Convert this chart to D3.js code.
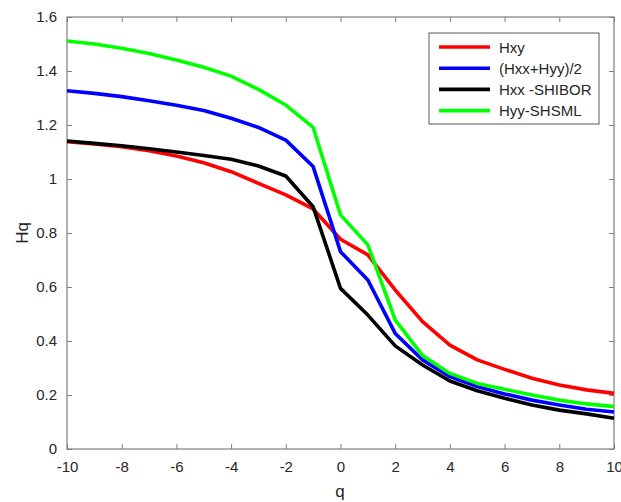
<!DOCTYPE html>
<html><head><meta charset="utf-8">
<script src="https://cdn.jsdelivr.net/npm/d3@7"></script>
<style>body{margin:0;background:#fff;} svg{display:block;font-family:"Liberation Sans",Arial,sans-serif;}</style>
</head><body>
<svg id="c" width="621" height="502"></svg>
<script>
const qValues = [-10,-9,-8,-7,-6,-5,-4,-3,-2,-1,0,1,2,3,4,5,6,7,8,9,10];
const hxy = [1.138,1.130,1.120,1.105,1.085,1.060,1.027,0.984,0.941,0.889,0.777,0.719,0.589,0.472,0.385,0.330,0.295,0.262,0.237,0.219,0.206];
const hAvg = [1.327,1.317,1.305,1.290,1.273,1.254,1.225,1.191,1.144,1.046,0.731,0.626,0.428,0.330,0.268,0.231,0.204,0.181,0.163,0.147,0.137];
const hxxShibor = [1.141,1.132,1.123,1.112,1.100,1.087,1.073,1.048,1.011,0.897,0.595,0.496,0.382,0.311,0.252,0.216,0.188,0.163,0.144,0.130,0.114];
const hyyShsml = [1.511,1.500,1.484,1.465,1.441,1.414,1.381,1.332,1.274,1.191,0.867,0.756,0.478,0.346,0.280,0.243,0.221,0.200,0.181,0.167,0.157];
const seriesNames = ["Hxy","(Hxx+Hyy)/2","Hxx -SHIBOR","Hyy-SHSML"];
const seriesColors = ["#ff0000","#0000ff","#000000","#00ff00"];
const xTicks = [-10,-8,-6,-4,-2,0,2,4,6,8,10];
const yTicks = [0,0.2,0.4,0.6,0.8,1,1.2,1.4,1.6];

const series = [hxy,hAvg,hxxShibor,hyyShsml];
const svg = d3.select("#c");
const L=67,R=614,T=17,B=449;
const x = d3.scaleLinear().domain([-10,10]).range([L,R]);
const y = d3.scaleLinear().domain([0,1.6]).range([B,T]);
const axisColor="#7f7f7f", textColor="#262626";

function styleAxis(g){
  g.selectAll(".domain").remove();
  g.selectAll(".tick line").attr("stroke",axisColor).attr("stroke-width",1);
  g.selectAll(".tick text").attr("fill",textColor).attr("font-size","15px").attr("font-family","Liberation Sans, Arial, sans-serif");
}
// bottom
svg.append("g").attr("transform",`translate(0,${B})`)
  .call(d3.axisBottom(x).tickValues(xTicks).tickSizeInner(-5).tickSizeOuter(0).tickPadding(12).tickFormat(d=>String(d)))
  .call(styleAxis);
// top
svg.append("g").attr("transform",`translate(0,${T})`)
  .call(d3.axisTop(x).tickValues(xTicks).tickSizeInner(-5).tickSizeOuter(0).tickFormat(""))
  .call(styleAxis);
// left
svg.append("g").attr("transform",`translate(${L},0)`)
  .call(d3.axisLeft(y).tickValues(yTicks).tickSizeInner(-5).tickSizeOuter(0).tickPadding(10).tickFormat(d=>String(+d.toFixed(1))))
  .call(styleAxis);
// right
svg.append("g").attr("transform",`translate(${R},0)`)
  .call(d3.axisRight(y).tickValues(yTicks).tickSizeInner(-5).tickSizeOuter(0).tickFormat(""))
  .call(styleAxis);

svg.append("rect").attr("x",L).attr("y",T).attr("width",R-L).attr("height",B-T)
  .attr("fill","none").attr("stroke",axisColor).attr("stroke-width",1.2);

const clip = svg.append("defs").append("clipPath").attr("id","clip");
clip.append("rect").attr("x",L).attr("y",T-2).attr("width",R-L+1).attr("height",B-T+4);

const line = d3.line().x((d,i)=>x(qValues[i])).y(d=>y(d));
svg.append("g").attr("clip-path","url(#clip)").selectAll("path").data(series).join("path")
  .attr("d",line).attr("fill","none").attr("stroke",(d,i)=>seriesColors[i])
  .attr("stroke-width",3.6).attr("stroke-linejoin","round");

// legend
const lg = svg.append("g");
lg.append("rect").attr("x",429).attr("y",33).attr("width",170).attr("height",91)
  .attr("fill","#fff").attr("stroke","#5a5a5a").attr("stroke-width",1);
seriesNames.forEach((n,i)=>{
  const yy = 47 + i*21.2;
  lg.append("line").attr("x1",439).attr("x2",490).attr("y1",yy).attr("y2",yy)
    .attr("stroke",seriesColors[i]).attr("stroke-width",3.6);
  lg.append("text").attr("x",499).attr("y",yy+5.5).attr("font-size","15px").attr("fill",textColor).text(n);
});

svg.append("text").attr("x",340).attr("y",497).attr("text-anchor","middle").attr("font-size","17px").attr("fill",textColor).text("q");
svg.append("text").attr("transform","translate(28,233) rotate(-90)").attr("text-anchor","middle").attr("font-size","17px").attr("fill",textColor).text("Hq");
</script>
</body></html>
